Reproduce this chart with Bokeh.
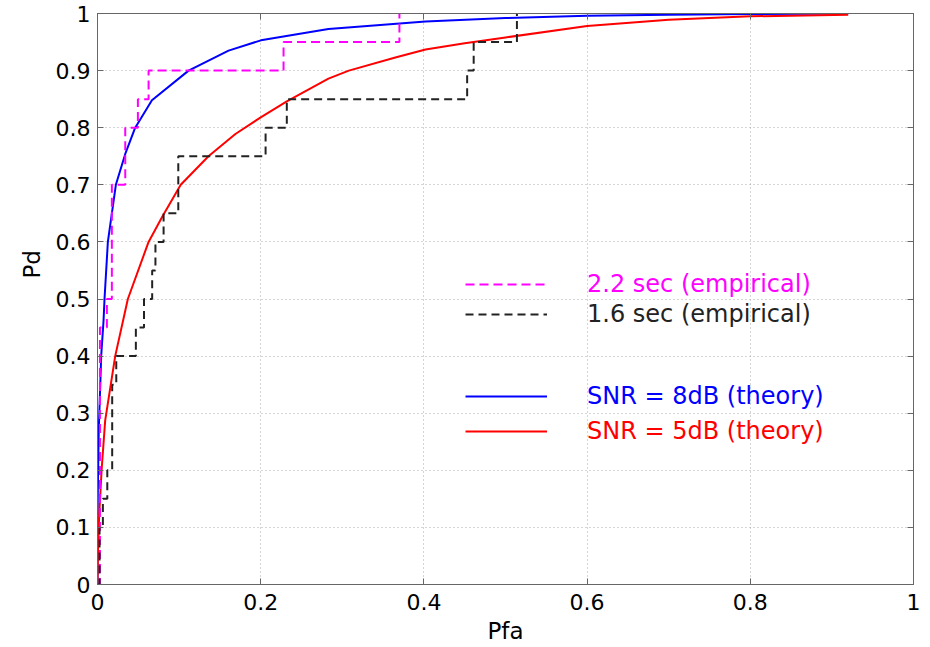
from bokeh.plotting import figure
from bokeh.models import (Legend, LegendItem, Title, LinearAxis, FixedTicker)
from bokeh.embed import file_html
from bokeh.resources import INLINE

# ---- data ----
x_ticks = [0, 0.2, 0.4, 0.6, 0.8, 1]
x_tick_labels = ["0", "0.2", "0.4", "0.6", "0.8", "1"]
y_ticks = [0, 0.1, 0.2, 0.3, 0.4, 0.5, 0.6, 0.7, 0.8, 0.9, 1]
y_tick_labels = ["0", "0.1", "0.2", "0.3", "0.4", "0.5", "0.6", "0.7", "0.8", "0.9", "1"]

emp22_pfa = [0.000, 0.003, 0.0115, 0.0176, 0.034, 0.0495, 0.0626, 0.228, 0.370]
emp22_pd = [0.00, 0.45, 0.50, 0.70, 0.80, 0.85, 0.90, 0.95, 1.00]

emp16_pfa = [0.000, 0.0025, 0.0066, 0.012, 0.018, 0.023, 0.047, 0.057, 0.067,
             0.071, 0.081, 0.099, 0.206, 0.232, 0.453, 0.461, 0.514]
emp16_pd = [0.00, 0.10, 0.15, 0.20, 0.35, 0.40, 0.45, 0.50, 0.55,
            0.60, 0.65, 0.75, 0.80, 0.85, 0.90, 0.95, 1.00]

snr8_pfa = [0.0, 0.0003, 0.0015, 0.0033, 0.0045, 0.0074, 0.0086, 0.0127, 0.0225,
            0.034, 0.0462, 0.0667, 0.1116, 0.1606, 0.2003, 0.283, 0.402, 0.5,
            0.6, 0.7, 0.8, 0.92]
snr8_pd = [0.0, 0.15, 0.27, 0.346, 0.4, 0.462, 0.5, 0.6, 0.7,
           0.754, 0.8, 0.848, 0.9, 0.935, 0.953, 0.973, 0.986, 0.992,
           0.996, 0.998, 0.999, 1.0]

snr5_pfa = [0.0, 0.0005, 0.002, 0.005, 0.0094, 0.0217, 0.0372, 0.0626, 0.079,
            0.102, 0.136, 0.169, 0.2, 0.232, 0.283, 0.308, 0.365, 0.402,
            0.45, 0.5, 0.6, 0.7, 0.8, 0.92]
snr5_pd = [0.0, 0.05, 0.12, 0.2, 0.287, 0.4, 0.5, 0.6, 0.643,
           0.70, 0.75, 0.789, 0.818, 0.846, 0.886, 0.9, 0.923, 0.937,
           0.948, 0.958, 0.978, 0.989, 0.995, 0.998]

labels = ["2.2 sec (empirical)", "1.6 sec (empirical)",
          "SNR = 8dB (theory)", "SNR = 5dB (theory)"]
colors = ["#ff00ff", "#222222", "#0000ff", "#ff0000"]

FONT = "DejaVu Sans"
FRAME = "#666666"

p = figure(width=930, height=647, x_range=(0, 1), y_range=(0, 1),
           output_backend="svg", toolbar_location=None,
           min_border_left=97, min_border_right=17, min_border_top=13,
           min_border_bottom=63, background_fill_color="white",
           border_fill_color="white")

# axes styling
for ax in (p.xaxis[0], p.yaxis[0]):
    ax.major_tick_in = 6
    ax.major_tick_out = 0
    ax.minor_tick_line_color = None
    ax.axis_line_color = FRAME
    ax.major_tick_line_color = FRAME
    ax.major_label_text_font = FONT
    ax.major_label_text_font_size = "22px"
    ax.major_label_text_color = "black"

p.xaxis.ticker = FixedTicker(ticks=x_ticks)
p.yaxis.ticker = FixedTicker(ticks=y_ticks)
p.xaxis.major_label_overrides = dict(zip(x_ticks, x_tick_labels))
p.yaxis.major_label_overrides = dict(zip(y_ticks, y_tick_labels))
p.xaxis.major_label_standoff = 9
p.yaxis.major_label_standoff = 7
p.xaxis.axis_label = "Pfa"
p.xaxis.axis_label_text_font = FONT
p.xaxis.axis_label_text_font_size = "23px"
p.xaxis.axis_label_text_font_style = "normal"
p.xaxis.axis_label_text_color = "black"
p.xaxis.axis_label_standoff = 5

# top / right frame axes with inward ticks (no labels)
top = LinearAxis(ticker=FixedTicker(ticks=x_ticks), major_tick_in=6, major_tick_out=0,
                 minor_tick_line_color=None, major_label_standoff=0,
                 major_label_overrides={t: "" for t in x_ticks},
                 axis_line_color=FRAME, major_tick_line_color=FRAME)
right = LinearAxis(ticker=FixedTicker(ticks=y_ticks), major_tick_in=6, major_tick_out=0,
                   minor_tick_line_color=None, major_label_standoff=0,
                   major_label_overrides={t: "" for t in y_ticks},
                   axis_line_color=FRAME, major_tick_line_color=FRAME)
p.add_layout(top, "above")
p.add_layout(right, "right")

p.outline_line_color = FRAME

# grid
for g in (p.xgrid[0], p.ygrid[0]):
    g.grid_line_color = "#aaaaaa"
    g.grid_line_dash = "1 3"
    g.grid_line_width = 1
p.xgrid.ticker = FixedTicker(ticks=x_ticks)
p.ygrid.ticker = FixedTicker(ticks=y_ticks)

# data
r_snr8 = p.line(snr8_pfa, snr8_pd, line_color=colors[2], line_width=2,
                line_join="round")
r_snr5 = p.line(snr5_pfa, snr5_pd, line_color=colors[3], line_width=2,
                line_join="round")
r_e22 = p.step(emp22_pfa, emp22_pd, mode="after", line_color=colors[0],
               line_width=2, line_dash="9 5")
r_e16 = p.step(emp16_pfa, emp16_pd, mode="after", line_color=colors[1],
               line_width=2, line_dash="8 5")

renderers = [r_e22, r_e16, r_snr8, r_snr5]
loc_y = [286, 256, 174, 139]
for lab, col, rend, ly in zip(labels, colors, renderers, loc_y):
    lg = Legend(items=[LegendItem(label=lab, renderers=[rend])],
                location=(368, ly), padding=0, margin=0, spacing=0,
                border_line_color=None, background_fill_alpha=0,
                glyph_width=82, glyph_height=20, label_height=20,
                label_standoff=40, label_text_font=FONT,
                label_text_font_size="24px", label_text_color=col)
    p.add_layout(lg)

pd_title = Title(text="Pd", align="left", offset=306, text_font=FONT,
                 text_font_size="23px", text_font_style="normal",
                 text_color="black", standoff=15)
p.add_layout(pd_title, "left")

open("out.html", "w").write(file_html(p, INLINE))
